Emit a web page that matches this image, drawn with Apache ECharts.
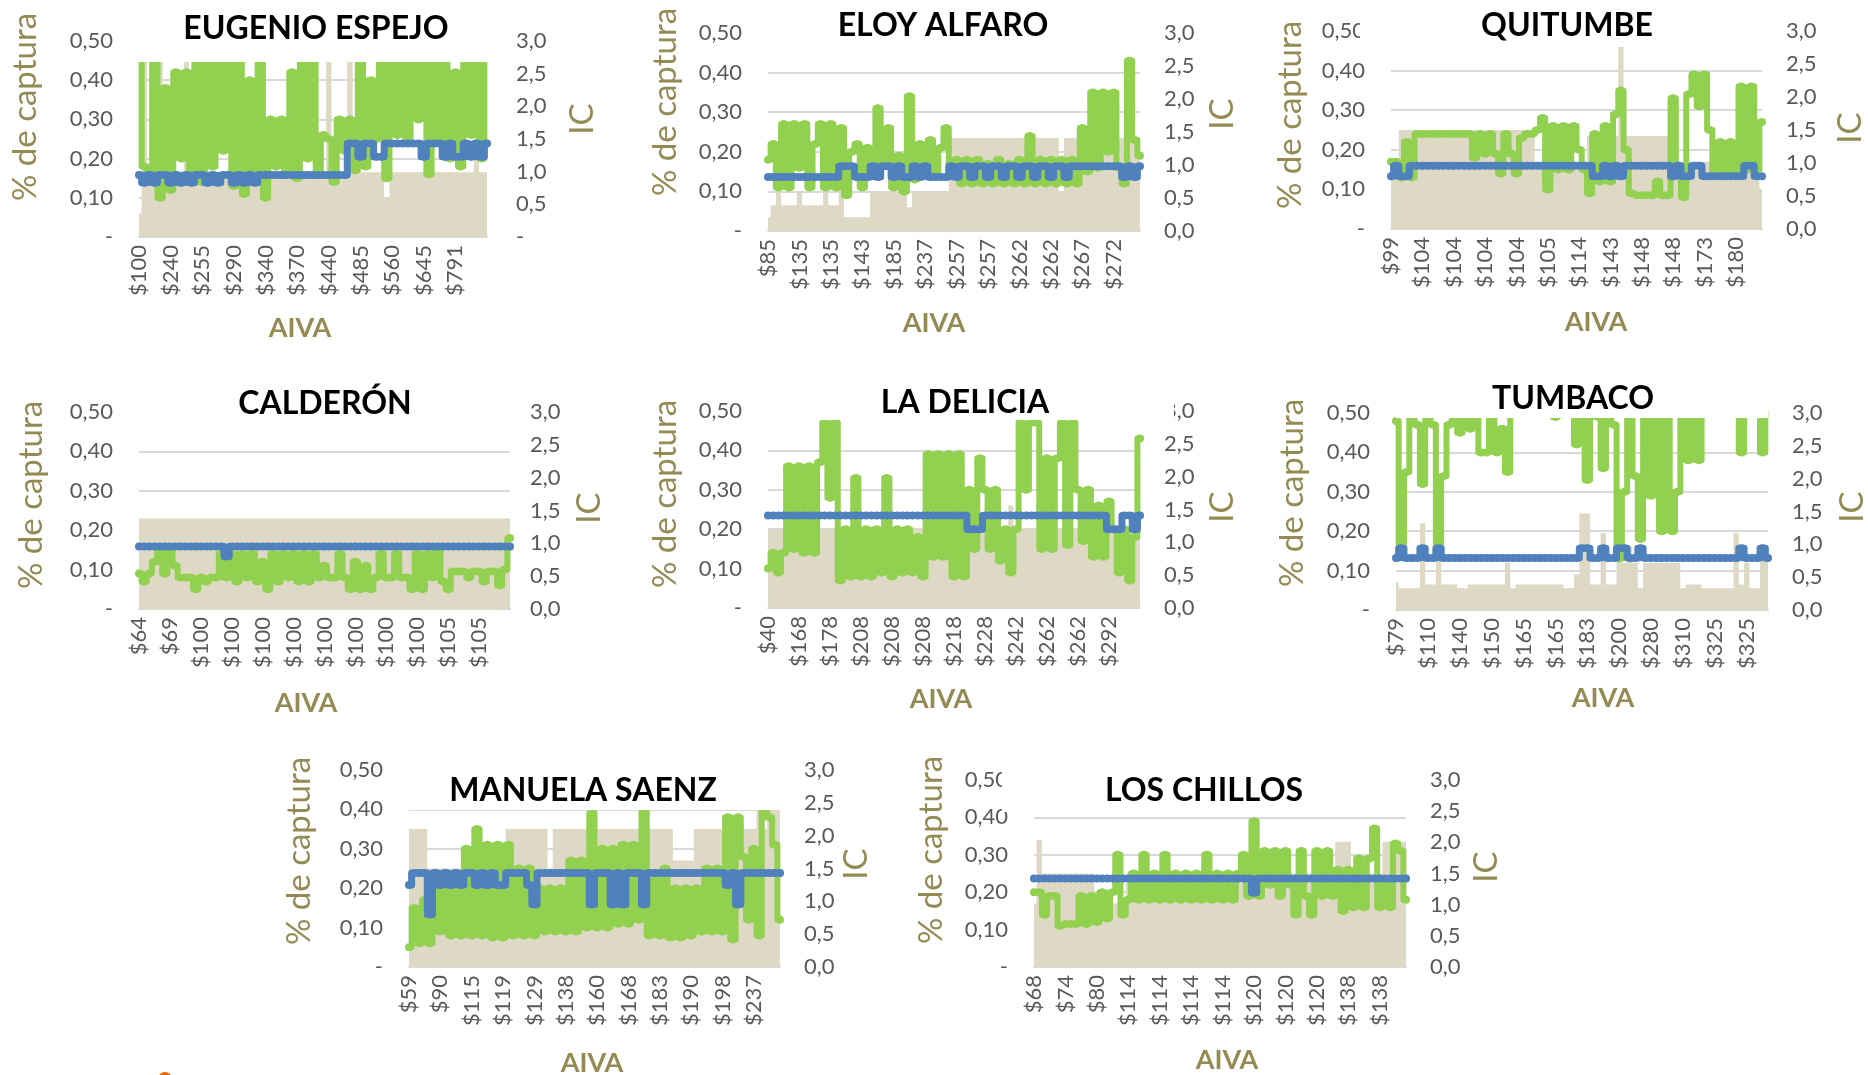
<!DOCTYPE html>
<html>
<head>
<meta charset="utf-8">
<script src="https://cdn.jsdelivr.net/npm/echarts@6.0.0/dist/echarts.min.js"></script>
<style>
html,body{margin:0;padding:0;background:#fff}
#chart{width:1868px;height:1075px}
</style>
</head>
<body>
<div id="chart"></div>
<script>
// --- EUGENIO ESPEJO
const eeLabels=['$100','$240','$255','$290','$340','$370','$440','$485','$560','$645','$791'];
const eeShare=[0.48,0.18,0.14,0.48,0.10,0.38,0.12,0.42,0.20,0.42,
 0.16,0.48,0.14,0.48,0.18,0.48,0.22,0.48,0.13,0.48,
 0.11,0.40,0.15,0.48,0.10,0.30,0.18,0.30,0.16,0.42,
 0.15,0.48,0.20,0.48,0.16,0.26,0.25,0.14,0.30,0.22,
 0.30,0.17,0.48,0.18,0.40,0.25,0.48,0.15,0.48,0.26,
 0.48,0.24,0.48,0.30,0.48,0.16,0.48,0.25,0.48,0.20,
 0.42,0.18,0.48,0.26,0.48,0.20,0.48];
const eeIC=[0.95,0.83,0.95,0.83,0.95,0.95,0.83,0.95,0.83,0.95,
 0.83,0.95,0.95,0.83,0.95,0.83,0.95,0.95,0.83,0.95,
 0.83,0.95,0.83,0.95,0.95,0.95,0.95,0.95,0.95,0.95,
 0.95,0.95,0.95,0.95,0.95,0.95,0.95,0.95,0.95,0.95,
 1.43,1.43,1.23,1.43,1.43,1.23,1.23,1.43,1.43,1.43,
 1.43,1.43,1.43,1.43,1.23,1.43,1.43,1.43,1.23,1.43,
 1.23,1.23,1.43,1.23,1.43,1.23,1.43];
const eeBase=[0.06,0.50,0.165,0.165,0.50,0.165,0.165,0.165,0.165,0.50,
 0.165,0.165,0.165,0.165,0.165,0.165,0.165,0.165,0.165,0.165,
 0.165,0.165,0.165,0.165,0.165,0.165,0.165,0.165,0.165,0.165,
 0.165,0.165,0.165,0.165,0.165,0.165,0.50,0.165,0.165,0.165,
 0.50,0.165,0.165,0.165,0.165,0.165,0.165,0.10,0.165,0.165,
 0.165,0.165,0.165,0.165,0.165,0.165,0.165,0.165,0.165,0.165,
 0.165,0.165,0.165,0.165,0.50,0.165,0.165];

// --- ELOY ALFARO
const eaLabels=['$85','$135','$135','$143','$185','$237','$257','$257','$262','$262','$267','$272'];
const eaShare=[0.18,0.22,0.11,0.27,0.11,0.27,0.16,0.27,0.11,0.22,
 0.27,0.11,0.27,0.11,0.26,0.09,0.20,0.22,0.11,0.21,
 0.15,0.31,0.17,0.26,0.11,0.19,0.10,0.34,0.13,0.22,
 0.14,0.23,0.14,0.21,0.26,0.15,0.18,0.12,0.18,0.12,
 0.18,0.12,0.17,0.12,0.18,0.12,0.17,0.12,0.18,0.12,
 0.24,0.12,0.18,0.12,0.18,0.12,0.18,0.12,0.18,0.12,
 0.26,0.15,0.35,0.16,0.35,0.20,0.35,0.16,0.12,0.43,
 0.23,0.19];
const eaIC=[0.82,0.82,0.82,0.82,0.82,0.82,0.82,0.82,0.82,0.82,
 0.82,0.82,0.82,0.82,0.98,0.98,0.98,0.82,0.82,0.82,
 0.98,0.82,0.98,0.98,0.82,0.98,0.82,0.82,0.98,0.82,
 0.98,0.82,0.82,0.82,0.82,0.98,0.82,0.98,0.98,0.82,
 0.98,0.98,0.82,0.98,0.98,0.82,0.98,0.98,0.82,0.98,
 0.98,0.82,0.98,0.98,0.82,0.98,0.98,0.82,0.98,0.98,
 0.98,0.98,0.98,0.98,0.98,0.98,0.98,0.98,0.82,0.98,
 0.82,0.98];
const eaBase=[0.035,0.065,0.10,0.065,0.065,0.065,0.10,0.065,0.065,0.065,
 0.065,0.10,0.065,0.065,0.235,0.035,0.035,0.035,0.035,0.035,
 0.10,0.10,0.10,0.10,0.10,0.10,0.10,0.06,0.10,0.10,
 0.10,0.10,0.10,0.10,0.10,0.235,0.235,0.235,0.235,0.235,
 0.235,0.235,0.235,0.235,0.235,0.235,0.235,0.235,0.235,0.235,
 0.235,0.235,0.235,0.235,0.235,0.235,0.10,0.235,0.235,0.235,
 0.235,0.235,0.235,0.235,0.235,0.235,0.235,0.235,0.235,0.235,
 0.235,0.235];

// --- QUITUMBE
const quLabels=['$99','$104','$104','$104','$104','$105','$114','$143','$148','$148','$173','$180'];
const quShare=[0.17,0.17,0.13,0.22,0.13,0.24,0.24,0.24,0.24,0.24,
 0.24,0.24,0.24,0.24,0.24,0.24,0.18,0.24,0.19,0.24,
 0.19,0.14,0.24,0.19,0.14,0.23,0.24,0.24,0.25,0.28,
 0.10,0.26,0.15,0.26,0.15,0.26,0.20,0.15,0.09,0.24,
 0.12,0.26,0.12,0.29,0.35,0.20,0.09,0.085,0.085,0.085,
 0.085,0.12,0.085,0.085,0.33,0.15,0.08,0.34,0.39,0.31,
 0.39,0.25,0.14,0.22,0.14,0.22,0.14,0.36,0.15,0.36,
 0.15,0.27];
const quIC=[0.80,0.96,0.80,0.80,0.96,0.96,0.96,0.96,0.96,0.96,
 0.96,0.96,0.96,0.96,0.96,0.96,0.96,0.96,0.96,0.96,
 0.96,0.96,0.96,0.96,0.96,0.96,0.96,0.96,0.96,0.96,
 0.96,0.96,0.96,0.96,0.96,0.96,0.96,0.96,0.96,0.80,
 0.80,0.96,0.80,0.96,0.80,0.96,0.96,0.96,0.96,0.96,
 0.96,0.96,0.96,0.96,0.80,0.96,0.80,0.80,0.96,0.96,
 0.80,0.80,0.80,0.80,0.80,0.80,0.80,0.80,0.96,0.96,
 0.80,0.80];
const quBase=[0.16,0.16,0.25,0.25,0.25,0.25,0.25,0.25,0.25,0.25,
 0.25,0.25,0.25,0.25,0.25,0.25,0.25,0.25,0.25,0.25,
 0.25,0.25,0.25,0.25,0.25,0.25,0.25,0.25,0.17,0.17,
 0.17,0.17,0.17,0.17,0.17,0.17,0.17,0.17,0.235,0.235,
 0.235,0.235,0.235,0.235,0.47,0.235,0.235,0.235,0.235,0.235,
 0.235,0.235,0.235,0.235,0.17,0.17,0.17,0.17,0.17,0.17,
 0.17,0.17,0.17,0.17,0.17,0.17,0.17,0.17,0.17,0.17,
 0.17,0.10];

// --- CALDERÓN
const caLabels=['$64','$69','$100','$100','$100','$100','$100','$100','$100','$100','$105','$105'];
const caShare=[0.09,0.07,0.09,0.12,0.15,0.09,0.15,0.11,0.08,0.08,
 0.08,0.05,0.08,0.07,0.08,0.08,0.14,0.08,0.14,0.07,
 0.14,0.08,0.14,0.07,0.12,0.05,0.14,0.07,0.14,0.08,
 0.14,0.07,0.14,0.07,0.14,0.08,0.11,0.08,0.08,0.14,
 0.08,0.05,0.12,0.05,0.11,0.05,0.08,0.14,0.08,0.08,
 0.14,0.08,0.08,0.05,0.14,0.05,0.14,0.08,0.15,0.07,
 0.05,0.095,0.095,0.095,0.08,0.095,0.095,0.07,0.095,0.095,
 0.06,0.10,0.18];
const caIC=[0.95,0.95,0.95,0.95,0.95,0.95,0.95,0.95,0.95,0.95,
 0.95,0.95,0.95,0.95,0.95,0.95,0.95,0.80,0.95,0.95,
 0.95,0.95,0.95,0.95,0.95,0.95,0.95,0.95,0.95,0.95,
 0.95,0.95,0.95,0.95,0.95,0.95,0.95,0.95,0.95,0.95,
 0.95,0.95,0.95,0.95,0.95,0.95,0.95,0.95,0.95,0.95,
 0.95,0.95,0.95,0.95,0.95,0.95,0.95,0.95,0.95,0.95,
 0.95,0.95,0.95,0.95,0.95,0.95,0.95,0.95,0.95,0.95,
 0.95,0.95,0.95];
const caBase=[0.23,0.23,0.23,0.23,0.23,0.23,0.23,0.23,0.23,0.23,
 0.23,0.23,0.23,0.23,0.23,0.23,0.23,0.23,0.23,0.23,
 0.23,0.23,0.23,0.23,0.23,0.23,0.23,0.23,0.23,0.23,
 0.23,0.23,0.23,0.23,0.23,0.23,0.23,0.23,0.23,0.23,
 0.23,0.23,0.23,0.23,0.23,0.23,0.23,0.23,0.23,0.23,
 0.23,0.23,0.23,0.23,0.23,0.23,0.23,0.23,0.23,0.23,
 0.23,0.23,0.23,0.23,0.23,0.23,0.23,0.23,0.23,0.23,
 0.23,0.23,0.23];

// --- LA DELICIA
const ldLabels=['$40','$168','$178','$208','$208','$208','$218','$228','$242','$262','$262','$292'];
const ldShare=[0.10,0.14,0.09,0.14,0.36,0.15,0.36,0.14,0.36,0.14,
 0.37,0.47,0.28,0.47,0.07,0.20,0.08,0.33,0.08,0.20,
 0.08,0.20,0.09,0.33,0.08,0.20,0.09,0.20,0.09,0.18,
 0.08,0.39,0.13,0.39,0.13,0.39,0.08,0.39,0.08,0.30,
 0.15,0.38,0.30,0.15,0.30,0.12,0.20,0.09,0.20,0.47,
 0.30,0.47,0.47,0.15,0.38,0.15,0.38,0.47,0.16,0.47,
 0.30,0.17,0.30,0.13,0.26,0.13,0.27,0.20,0.09,0.20,
 0.07,0.18,0.43];
const ldIC=[1.41,1.41,1.41,1.41,1.41,1.41,1.41,1.41,1.41,1.41,
 1.41,1.41,1.41,1.41,1.41,1.41,1.41,1.41,1.41,1.41,
 1.41,1.41,1.41,1.41,1.41,1.41,1.41,1.41,1.41,1.41,
 1.41,1.41,1.41,1.41,1.41,1.41,1.41,1.41,1.41,1.20,
 1.20,1.20,1.41,1.41,1.41,1.41,1.41,1.41,1.41,1.41,
 1.41,1.41,1.41,1.41,1.41,1.41,1.41,1.41,1.41,1.41,
 1.41,1.41,1.41,1.41,1.41,1.41,1.20,1.20,1.20,1.41,
 1.41,1.20,1.41];
const ldBase=[0.20,0.20,0.20,0.20,0.20,0.20,0.20,0.20,0.20,0.20,
 0.20,0.20,0.20,0.20,0.20,0.20,0.20,0.20,0.20,0.20,
 0.20,0.20,0.20,0.20,0.20,0.20,0.20,0.20,0.20,0.20,
 0.20,0.20,0.20,0.20,0.20,0.20,0.20,0.20,0.20,0.20,
 0.20,0.20,0.20,0.20,0.20,0.20,0.20,0.26,0.20,0.20,
 0.20,0.20,0.20,0.20,0.20,0.20,0.20,0.20,0.20,0.20,
 0.20,0.20,0.20,0.20,0.20,0.20,0.20,0.20,0.20,0.20,
 0.20,0.20,0.20];

// --- TUMBACO
const tuLabels=['$79','$110','$140','$150','$165','$165','$183','$200','$280','$310','$325','$325'];
const tuShare=[0.48,0.17,0.35,0.60,0.47,0.32,0.60,0.47,0.17,0.34,
 0.47,0.60,0.45,0.60,0.46,0.60,0.40,0.40,0.60,0.40,
 0.46,0.35,0.60,0.60,0.60,0.60,0.60,0.60,0.60,0.60,
 0.49,0.60,0.60,0.60,0.42,0.60,0.33,0.60,0.49,0.36,
 0.60,0.47,0.13,0.30,0.60,0.34,0.18,0.60,0.29,0.60,
 0.20,0.60,0.20,0.30,0.60,0.38,0.60,0.38,0.60,0.60,
 0.60,0.60,0.60,0.60,0.60,0.40,0.60,0.60,0.60,0.40,
 0.60];
const tuIC=[0.79,0.94,0.79,0.79,0.79,0.94,0.79,0.79,0.94,0.79,
 0.79,0.79,0.79,0.79,0.79,0.79,0.79,0.79,0.79,0.79,
 0.79,0.79,0.79,0.79,0.79,0.79,0.79,0.79,0.79,0.79,
 0.79,0.79,0.79,0.79,0.79,0.94,0.94,0.79,0.79,0.94,
 0.79,0.79,0.94,0.94,0.79,0.79,0.94,0.79,0.79,0.79,
 0.79,0.79,0.79,0.79,0.79,0.79,0.79,0.79,0.79,0.79,
 0.79,0.79,0.79,0.79,0.79,0.94,0.79,0.79,0.79,0.94,
 0.79];
const tuBase=[0.07,0.055,0.055,0.055,0.055,0.22,0.065,0.065,0.16,0.065,
 0.065,0.065,0.055,0.055,0.065,0.065,0.065,0.065,0.065,0.065,
 0.065,0.12,0.055,0.065,0.065,0.065,0.065,0.065,0.065,0.065,
 0.065,0.065,0.055,0.055,0.09,0.245,0.245,0.065,0.065,0.195,
 0.065,0.065,0.12,0.12,0.16,0.12,0.055,0.12,0.12,0.12,
 0.12,0.12,0.12,0.12,0.055,0.065,0.065,0.065,0.055,0.055,
 0.055,0.055,0.055,0.055,0.195,0.065,0.12,0.055,0.055,0.16,
 0.16];

// --- MANUELA SAENZ
const msLabels=['$59','$90','$115','$119','$129','$138','$160','$168','$183','$190','$198','$237'];
const msShare=[0.05,0.15,0.06,0.17,0.06,0.20,0.09,0.20,0.08,0.23,
 0.08,0.30,0.08,0.35,0.08,0.31,0.075,0.31,0.075,0.31,
 0.08,0.25,0.08,0.25,0.08,0.20,0.09,0.20,0.09,0.20,
 0.09,0.27,0.09,0.27,0.10,0.39,0.10,0.30,0.10,0.30,
 0.11,0.31,0.11,0.31,0.12,0.42,0.08,0.22,0.08,0.25,
 0.075,0.20,0.075,0.20,0.08,0.20,0.09,0.25,0.09,0.25,
 0.09,0.38,0.07,0.38,0.28,0.12,0.30,0.08,0.42,0.38,
 0.31,0.12];
const msIC=[1.25,1.43,1.43,1.43,0.80,1.43,1.25,1.43,1.25,1.43,
 1.25,1.43,1.43,1.25,1.43,1.25,1.43,1.25,1.25,1.43,
 1.43,1.43,1.43,1.25,0.95,1.43,1.43,1.43,1.43,1.43,
 1.43,1.43,1.43,1.43,1.43,0.95,1.43,1.43,1.43,0.95,
 1.43,0.95,1.43,1.43,1.43,0.95,1.43,1.43,1.43,1.43,
 1.43,1.43,1.43,1.43,1.43,1.43,1.43,1.43,1.43,1.43,
 1.43,1.25,1.43,0.95,1.43,1.43,1.43,1.43,1.43,1.43,
 1.43,1.43];
const msBase=[0.35,0.35,0.35,0.35,0.25,0.25,0.25,0.25,0.25,0.25,
 0.25,0.25,0.25,0.25,0.25,0.25,0.25,0.25,0.25,0.35,
 0.35,0.35,0.35,0.35,0.35,0.35,0.35,0.25,0.35,0.35,
 0.35,0.35,0.35,0.35,0.35,0.35,0.35,0.35,0.35,0.35,
 0.35,0.35,0.35,0.35,0.35,0.35,0.35,0.35,0.35,0.35,
 0.35,0.27,0.27,0.27,0.27,0.35,0.35,0.35,0.35,0.35,
 0.35,0.35,0.35,0.35,0.35,0.35,0.35,0.40,0.35,0.40,
 0.40,0.40];

// --- LOS CHILLOS
const lcLabels=['$68','$74','$80','$114','$114','$114','$114','$120','$120','$120','$138','$138'];
const lcShare=[0.20,0.20,0.14,0.19,0.19,0.11,0.115,0.115,0.115,0.19,
 0.115,0.19,0.12,0.20,0.13,0.20,0.30,0.14,0.18,0.25,
 0.18,0.30,0.18,0.25,0.18,0.30,0.18,0.25,0.18,0.25,
 0.18,0.25,0.18,0.30,0.18,0.25,0.18,0.25,0.18,0.25,
 0.30,0.19,0.39,0.19,0.31,0.22,0.31,0.19,0.31,0.22,
 0.14,0.31,0.19,0.14,0.31,0.19,0.31,0.19,0.26,0.15,
 0.26,0.16,0.29,0.16,0.29,0.37,0.16,0.22,0.16,0.33,
 0.31,0.18];
const lcIC=[1.42,1.42,1.42,1.42,1.42,1.42,1.42,1.42,1.42,1.42,
 1.42,1.42,1.42,1.42,1.42,1.42,1.42,1.42,1.42,1.42,
 1.42,1.42,1.42,1.42,1.42,1.42,1.42,1.42,1.42,1.42,
 1.42,1.42,1.42,1.42,1.42,1.42,1.42,1.42,1.42,1.42,
 1.42,1.42,1.19,1.42,1.42,1.42,1.42,1.42,1.42,1.42,
 1.42,1.42,1.42,1.42,1.42,1.42,1.42,1.42,1.42,1.42,
 1.42,1.42,1.42,1.42,1.42,1.42,1.42,1.42,1.42,1.42,
 1.42,1.42];
const lcBase=[0.17,0.34,0.25,0.25,0.25,0.25,0.25,0.25,0.25,0.25,
 0.25,0.25,0.17,0.17,0.17,0.17,0.17,0.17,0.25,0.25,
 0.25,0.25,0.25,0.25,0.25,0.25,0.25,0.25,0.25,0.25,
 0.25,0.25,0.25,0.25,0.25,0.25,0.25,0.25,0.25,0.25,
 0.25,0.25,0.25,0.25,0.25,0.25,0.25,0.25,0.25,0.25,
 0.25,0.25,0.25,0.25,0.25,0.25,0.25,0.25,0.335,0.335,
 0.335,0.25,0.25,0.25,0.25,0.25,0.25,0.335,0.335,0.335,
 0.335,0.335];

// layout of each small chart (pixels); cover = white title box over the plot top
const panels=[
  {name:'EUGENIO ESPEJO', labels:eeLabels, share:eeShare, ic:eeIC, base:eeBase,
   grid:[139,41,348,196], title:[316,29], yName:[25,107], icName:[582,119], xName:[300,328], cover:[134,0,358,62], icZero:'-', rMargin:29},
  {name:'ELOY ALFARO', labels:eaLabels, share:eaShare, ic:eaIC, base:eaBase,
   grid:[768,33,372,198], title:[943,26], yName:[665,102], icName:[1222,114], xName:[934,323], cover:[768,0,372,45]},
  {name:'QUITUMBE', labels:quLabels, share:quShare, ic:quIC, base:quBase,
   grid:[1391,31,371,198], title:[1567,26], yName:[1290,115], icName:[1850,128], xName:[1596,322], cover:[1360,0,402,47]},
  {name:'CALDERÓN', labels:caLabels, share:caShare, ic:caIC, base:caBase,
   grid:[139,412,371,197], title:[325,404], yName:[31,495], icName:[589,508], xName:[306,703], cover:[139,375,371,45], rMargin:20},
  {name:'LA DELICIA', labels:ldLabels, share:ldShare, ic:ldIC, base:ldBase,
   grid:[768,411,372,197], title:[965,403], yName:[665,494], icName:[1222,507], xName:[941,699], cover:[768,375,406,45]},
  {name:'TUMBACO', labels:tuLabels, share:tuShare, ic:tuIC, base:tuBase,
   grid:[1396,413,372,197], title:[1573,399], yName:[1292,493], icName:[1852,507], xName:[1603,698], cover:[1396,375,372,43]},
  {name:'MANUELA SAENZ', labels:msLabels, share:msShare, ic:msIC, base:msBase,
   grid:[409,770,371,197], title:[583,791], yName:[299,851], icName:[856,864], xName:[592,1063], cover:[409,750,371,60]},
  {name:'LOS CHILLOS', labels:lcLabels, share:lcShare, ic:lcIC, base:lcBase,
   grid:[1034,780,372,187], title:[1204,791], yName:[931,850], icName:[1486,867], xName:[1227,1060], cover:[1002,750,404,62]}
];

const FONT='Lato';
const GREY='#595959';
const OLIVE='#948A54';
const TITLE_SIZE=32;
const comma=(v,d)=>v.toFixed(d).replace('.',',');
const measure=document.createElement('canvas').getContext('2d');
measure.font='bold '+TITLE_SIZE+'px '+FONT;

const grid=[],xAxis=[],yAxis=[],series=[],title=[],graphic=[];
panels.forEach((p,i)=>{
  grid.push({left:p.grid[0],top:p.grid[1],width:p.grid[2],height:p.grid[3]});
  xAxis.push({
    type:'value',gridIndex:i,min:0,max:p.share.length-1,interval:6,
    axisLine:{show:true,lineStyle:{color:'#D9D9D9',width:2}},
    axisTick:{show:false},splitLine:{show:false},
    axisLabel:{rotate:90,margin:8,color:GREY,fontSize:22,fontFamily:FONT,
      formatter:v=>(v%6===0&&p.labels[v/6])||''}
  });
  yAxis.push({
    type:'value',gridIndex:i,position:'left',min:0,max:0.5,interval:0.1,
    axisLine:{show:false},axisTick:{show:false},
    splitLine:{lineStyle:{color:'#D9D9D9',width:2}},
    axisLabel:{margin:26,color:GREY,fontSize:22,fontFamily:FONT,
      formatter:v=>v===0?'-':comma(v,2)}
  });
  yAxis.push({
    type:'value',gridIndex:i,position:'right',min:0,max:3,interval:0.5,
    axisLine:{show:false},axisTick:{show:false},splitLine:{show:false},
    axisLabel:{margin:p.rMargin||24,color:GREY,fontSize:22,fontFamily:FONT,
      formatter:v=>v===0?(p.icZero||'0,0'):comma(v,1)}
  });
  series.push({
    type:'line',xAxisIndex:i,yAxisIndex:2*i,step:'middle',silent:true,
    data:p.base.map((v,k)=>[k,v]),symbol:'none',
    lineStyle:{width:0},areaStyle:{color:'#DDD9C4',opacity:1},z:1
  });
  series.push({
    type:'line',xAxisIndex:i,yAxisIndex:2*i,step:'middle',
    data:p.share.map((v,k)=>[k,v]),
    symbol:'circle',symbolSize:8,showAllSymbol:true,
    lineStyle:{color:'#92D050',width:6,join:'round',cap:'round'},itemStyle:{color:'#92D050'},z:3
  });
  series.push({
    type:'line',xAxisIndex:i,yAxisIndex:2*i+1,step:'middle',
    data:p.ic.map((v,k)=>[k,v]),
    symbol:'circle',symbolSize:8,showAllSymbol:true,
    lineStyle:{color:'#4F81BD',width:7,join:'round',cap:'round'},itemStyle:{color:'#4F81BD'},z:4
  });

  // chart title with a white box that hides the top of the plot, as in the original
  const [cx,cy,cw,ch]=p.cover;
  const tw=measure.measureText(p.name).width;
  const half=TITLE_SIZE/2;
  const padL=Math.max(0,p.title[0]-tw/2-cx);
  const padR=Math.max(0,cx+cw-(p.title[0]+tw/2));
  const padT=Math.max(0,p.title[1]-half-cy);
  const padB=Math.max(0,cy+ch-(p.title[1]+half));
  title.push({
    text:p.name,left:cx,top:cy,textAlign:'left',textVerticalAlign:'top',
    padding:[padT,padR,padB,padL],backgroundColor:'#fff',z:10,
    textStyle:{fontFamily:FONT,fontWeight:'bold',fontSize:TITLE_SIZE,lineHeight:TITLE_SIZE,color:'#000'}
  });

  graphic.push({type:'text',x:p.yName[0],y:p.yName[1],rotation:Math.PI/2,
    style:{text:'% de captura',fill:OLIVE,font:'33px '+FONT,align:'center',verticalAlign:'middle'}});
  graphic.push({type:'text',x:p.icName[0],y:p.icName[1],rotation:Math.PI/2,
    style:{text:'IC',fill:OLIVE,font:'33px '+FONT,align:'center',verticalAlign:'middle'}});
  graphic.push({type:'text',x:p.xName[0],y:p.xName[1],
    style:{text:'AIVA',fill:OLIVE,font:'bold 27px '+FONT,align:'center',verticalAlign:'middle'}});
});
graphic.push({type:'circle',shape:{cx:165,cy:1079,r:7},style:{fill:'#E46C0A'}});

const chart=echarts.init(document.getElementById('chart'));
chart.setOption({
  animation:false,
  backgroundColor:'#fff',
  title:title,grid:grid,xAxis:xAxis,yAxis:yAxis,series:series,graphic:graphic
});
</script>
</body>
</html>
